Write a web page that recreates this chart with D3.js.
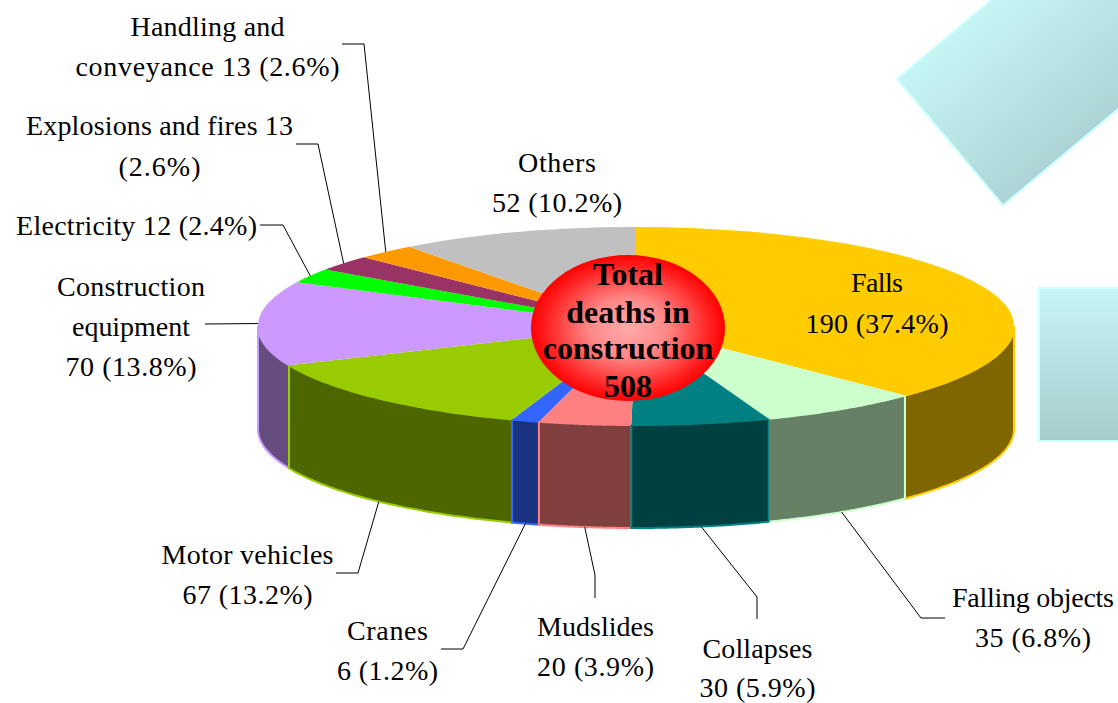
<!DOCTYPE html>
<html>
<head>
<meta charset="utf-8">
<script src="https://cdn.jsdelivr.net/npm/d3@7"></script>
<style>
  html, body { margin: 0; padding: 0; background: #fff; }
  svg { display: block; }
  text { font-family: "Liberation Serif", serif; fill: #000; }
</style>
</head>
<body>
<div id="chart"></div>
<script>
var categories = ['Falls', 'Falling objects', 'Collapses', 'Mudslides', 'Cranes', 'Motor vehicles',
  'Construction equipment', 'Electricity', 'Explosions and fires', 'Handling and conveyance', 'Others'];
var deaths = [190, 35, 30, 20, 6, 67, 70, 12, 13, 13, 52];
var percents = ['37.4', '6.8', '5.9', '3.9', '1.2', '13.2', '13.8', '2.4', '2.6', '2.6', '10.2'];
var topColors = ['#ffcc00', '#ccffcc', '#008080', '#ff8080', '#3366ff', '#99cc00',
  '#cc99ff', '#00ff00', '#993366', '#ff9900', '#c0c0c0'];
var wallColors = ['#806600', '#668066', '#004040', '#804040', '#1a3380', '#4d6600',
  '#664d80', '#008000', '#4d1a33', '#804d00', '#606060'];
var centerLines = ['Total', 'deaths in', 'construction', '508'];

// label lines + elbow, by category index. w = line widths as in the picture
var labelLayout = [
  { lines: ['Falls', '190 (37.4%)'], x: 877, y: [292, 333], w: [52, 143] },
  { lines: ['Falling objects', '35 (6.8%)'], x: 1033, y: [607, 647], w: [162, 116], elbow: [[921, 618], [945, 618]], front: true },
  { lines: ['Collapses', '30 (5.9%)'], x: 757.5, y: [658, 697], w: [110, 116], elbow: [[757, 597], [757, 619]], front: true },
  { lines: ['Mudslides', '20 (3.9%)'], x: 595.5, y: [636, 676], w: [117, 117], elbow: [[595, 575], [595, 598]], front: true },
  { lines: ['Cranes', '6 (1.2%)'], x: 387.5, y: [640, 680], w: [81, 101], elbow: [[463, 649], [441, 649]], front: true },
  { lines: ['Motor vehicles', '67 (13.2%)'], x: 247.5, y: [564, 604], w: [172, 130], elbow: [[358, 573], [336, 573]], front: true },
  { lines: ['Construction', 'equipment', '70 (13.8%)'], x: 131, y: [296, 336, 376], w: [148, 118, 131], elbow: [[205, 324]] },
  { lines: ['Electricity 12 (2.4%)'], x: 136.5, y: [235], w: [241], elbow: [[283, 225], [260, 225]] },
  { lines: ['Explosions and fires 13', '(2.6%)'], x: 159.5, y: [135, 176], w: [267, 82], elbow: [[318, 144], [296, 144]] },
  { lines: ['Handling and', 'conveyance 13 (2.6%)'], x: 207.5, y: [36, 76], w: [154, 264], elbow: [[364, 44], [342, 44]] },
  { lines: ['Others', '52 (10.2%)'], x: 557, y: [172, 212], w: [78, 130] }
];

var width = 1118, height = 703;
var cx = 636, cy = 326, rx = 378, ry = 99, depth = 103;

var svg = d3.select('#chart').append('svg')
  .attr('width', width)
  .attr('height', height);

var defs = svg.append('defs');

var boxGrad = defs.append('linearGradient')
  .attr('id', 'boxGrad')
  .attr('x1', 0).attr('y1', 0).attr('x2', 0).attr('y2', 1);
boxGrad.append('stop').attr('offset', 0).attr('stop-color', '#c5f6f4');
boxGrad.append('stop').attr('offset', 1).attr('stop-color', '#a6cccc');

var boxGrad2 = defs.append('linearGradient')
  .attr('id', 'boxGrad2')
  .attr('x1', 0).attr('y1', 0).attr('x2', 0).attr('y2', 1);
boxGrad2.append('stop').attr('offset', 0).attr('stop-color', '#c5f6f4');
boxGrad2.append('stop').attr('offset', 1).attr('stop-color', '#acd4d4');

var ballGrad = defs.append('radialGradient').attr('id', 'ballGrad');
ballGrad.append('stop').attr('offset', 0).attr('stop-color', '#ffaaaa');
ballGrad.append('stop').attr('offset', 0.4).attr('stop-color', '#ff8888');
ballGrad.append('stop').attr('offset', 0.85).attr('stop-color', '#ff2020');
ballGrad.append('stop').attr('offset', 1).attr('stop-color', '#ff0000');

// background boxes
svg.append('rect')
  .attr('x', 1039).attr('y', 288)
  .attr('width', 100).attr('height', 153)
  .attr('fill', 'url(#boxGrad)')
  .attr('stroke', '#ccffff').attr('stroke-width', 2);

svg.append('rect')
  .attr('x', 0).attr('y', 0)
  .attr('width', 320).attr('height', 165)
  .attr('transform', 'translate(897,79) rotate(-40)')
  .attr('fill', 'url(#boxGrad2)')
  .attr('stroke', '#ccffff').attr('stroke-width', 2);

var pie = d3.pie().sort(null).startAngle(0).endAngle(2 * Math.PI);
var slices = pie(deaths);

var xPos = d3.scaleLinear().domain([-1, 1]).range([cx - rx, cx + rx]);
var yPos = d3.scaleLinear().domain([-1, 1]).range([cy - ry, cy + ry]);

function rimX(a) { return xPos(Math.sin(a)); }
function rimY(a) { return yPos(-Math.cos(a)); }

// front wall of a slice: only the part between 90 and 270 degrees shows
function wallPath(d) {
  var a0 = Math.max(d.startAngle, Math.PI / 2);
  var a1 = Math.min(d.endAngle, 3 * Math.PI / 2);
  if (a1 <= a0) return null;
  var steps = d3.range(0, 41).map(function(i) { return a0 + (a1 - a0) * i / 40; });
  var top = steps.map(function(a) { return [rimX(a), rimY(a)]; });
  var bottom = steps.slice().reverse().map(function(a) { return [rimX(a), rimY(a) + depth]; });
  return d3.line()(top.concat(bottom)) + 'Z';
}

// painted so the nearer walls' edges sit on top
var wallOrder = [0, 1, 6, 5, 4, 3, 2];
svg.append('g').selectAll('path')
  .data(wallOrder)
  .enter().append('path')
  .attr('d', function(i) { return wallPath(slices[i]); })
  .attr('fill', function(i) { return wallColors[i]; })
  .attr('stroke', function(i) { return topColors[i]; })
  .attr('stroke-width', 2);

var arc = d3.arc().innerRadius(0).outerRadius(100);

svg.append('g')
  .attr('transform', 'translate(' + cx + ',' + cy + ') scale(' + rx / 100 + ',' + ry / 100 + ')')
  .selectAll('path')
  .data(slices)
  .enter().append('path')
  .attr('d', arc)
  .attr('fill', function(d, i) { return topColors[i]; });

// leader lines start on the rim at the slice's middle angle
var leaderLine = d3.line();
var leaders = svg.append('g');
labelLayout.forEach(function(l, i) {
  if (!l.elbow) return;
  var mid = (slices[i].startAngle + slices[i].endAngle) / 2;
  var start = [rimX(mid), rimY(mid) + (l.front ? depth : 0)];
  leaders.append('path')
    .attr('d', leaderLine([start].concat(l.elbow)))
    .attr('fill', 'none')
    .attr('stroke', '#000')
    .attr('stroke-width', 1);
});

// labels
labelLayout.forEach(function(l) {
  l.lines.forEach(function(t, j) {
    svg.append('text')
      .attr('x', l.x)
      .attr('y', l.y[j])
      .attr('text-anchor', 'middle')
      .attr('font-size', 28)
      .attr('textLength', l.w[j])
      .attr('lengthAdjust', 'spacing')
      .text(t);
  });
});

// centre ball
svg.append('ellipse')
  .attr('cx', 628).attr('cy', 328)
  .attr('rx', 97).attr('ry', 73)
  .attr('fill', 'url(#ballGrad)');

var centerY = [285, 323, 359, 397];
svg.append('g').selectAll('text')
  .data(centerLines)
  .enter().append('text')
  .attr('x', 628)
  .attr('y', function(d, i) { return centerY[i]; })
  .attr('text-anchor', 'middle')
  .attr('font-size', 32)
  .attr('font-weight', 'bold')
  .text(function(d) { return d; });
</script>
</body>
</html>
